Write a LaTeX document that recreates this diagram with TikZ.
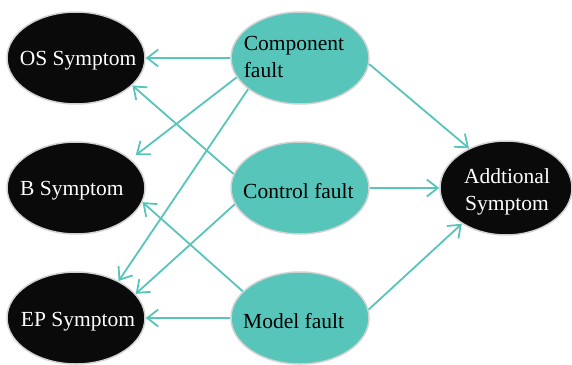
\documentclass[tikz,border=0pt]{standalone}
\usepackage{fontspec}
\setmainfont{Liberation Serif}
\usetikzlibrary{arrows.meta,shapes.geometric}
\definecolor{teal1}{HTML}{57C5BA}
\definecolor{ink}{HTML}{0A0A0A}
\definecolor{rim}{HTML}{D2D2D2}
\tikzset{
  symbox/.style={ellipse,draw=rim,line width=1.5pt,fill=ink,minimum width=138pt,minimum height=92pt,inner sep=0pt},
  faultbox/.style={ellipse,draw=rim,line width=1.5pt,fill=teal1,minimum width=138pt,minimum height=92pt,inner sep=0pt},
  symtext/.style={text=white,font=\fontsize{21.5}{26.5}\selectfont,inner sep=0pt,align=center},
  faulttext/.style={text=black,font=\fontsize{21.5}{27}\selectfont,inner sep=0pt,align=left},
  link/.style={draw=teal1,line width=1.8pt,-{Straight Barb[length=11pt,width=17pt,line width=1.8pt]}}
}
\begin{document}
\begin{tikzpicture}[x=1pt,y=-1pt]
\useasboundingbox (0,0) rectangle (572,364);
\node[symbox] (os) at (76,58) {};
\node[symbox] (b) at (76,188) {};
\node[symbox] (ep) at (76,318) {};
\node[faultbox] (comp) at (300,58) {};
\node[faultbox] (ctrl) at (300,188) {};
\node[faultbox] (model) at (300,318) {};
\node[symbox,minimum width=132pt,minimum height=94pt] (add) at (506,188) {};
\node[symtext] (os-t) at (78,61) {OS Symptom};
\node[symtext,anchor=west] (b-t) at (20,191) {B Symptom};
\node[symtext] (ep-t) at (78,322) {EP Symptom};
\node[symtext] (add-t) at (507,192) {Addtional\\Symptom};
\node[faulttext] (comp-t) at (294,56.5) {Component\\fault};
\node[faulttext,anchor=west] (ctrl-t) at (243,191.5) {Control fault};
\node[faulttext,anchor=west] (model-t) at (243,321.5) {Model fault};
\draw[link] (comp.180) -- (os.0);
\draw[link] (comp.197) -- ([shift={(6pt,3pt)}]b.29);
\draw[link] (comp.211) -- (ep.41);
\draw[link] (ctrl.168) -- (os.334);
\draw[link] (ctrl.194) -- (ep.22);
\draw[link] (model.155) -- (b.348);
\draw[link] (model.180) -- (ep.0);
\draw[link] (comp.355) -- (add.133);
\draw[link] (ctrl.0) -- (add.180);
\draw[link] (model.7) -- (add.219);
\end{tikzpicture}
\end{document}
